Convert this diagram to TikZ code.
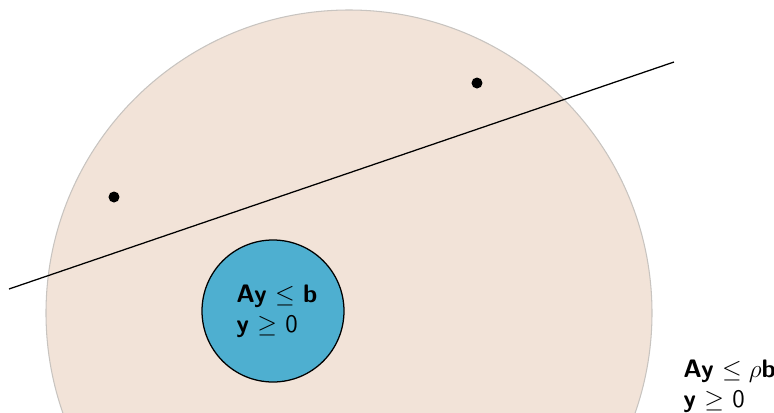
\documentclass[tikz,border=0pt]{standalone}
\usepackage{amsmath,amssymb}
\usetikzlibrary{positioning}
\definecolor{regionbeige}{HTML}{F2E3D8}
\definecolor{rimgrey}{HTML}{C8C4C0}
\definecolor{feasblue}{HTML}{4EAFD0}
\tikzset{
  bigset/.style  = {circle, draw=rimgrey, fill=regionbeige, line width=0.5pt},
  smallset/.style= {circle, draw=black, fill=feasblue, line width=0.6pt},
  conlabel/.style= {align=left, font=\sffamily\large, inner sep=0pt, anchor=north west},
  pointdot/.style= {circle, fill=black, inner sep=0pt, minimum size=11*0.01667cm},
  cutline/.style = {draw=black, line width=0.6pt},
}
\begin{document}
\begin{tikzpicture}[x=0.01667cm,y=-0.01667cm]
  \clip (0,0) rectangle (774,413);
  % relaxed region and the original one inside it
  \node[bigset,minimum size=606*0.01667cm] (relaxed) at (349,313) {};
  \node[smallset,minimum size=142*0.01667cm] (orig) at (273,311) {};
  \node[conlabel] (origtxt) at (236,285)
    {\textbf{Ay} $\leq$ \textbf{b}\\\textbf{y} $\geq$ 0};
  \node[conlabel] (relaxtxt) at (683,360)
    {\textbf{Ay} $\leq \rho$\textbf{b}\\\textbf{y} $\geq$ 0};
  % separating line and the two points
  \coordinate (cutA) at (9,289);
  \coordinate (cutB) at (674,62);
  \draw[cutline] (cutA) -- (cutB);
  \node[pointdot] (ptleft) at (114,197) {};
  \node[pointdot] (ptright) at (477,83) {};
\end{tikzpicture}
\end{document}
